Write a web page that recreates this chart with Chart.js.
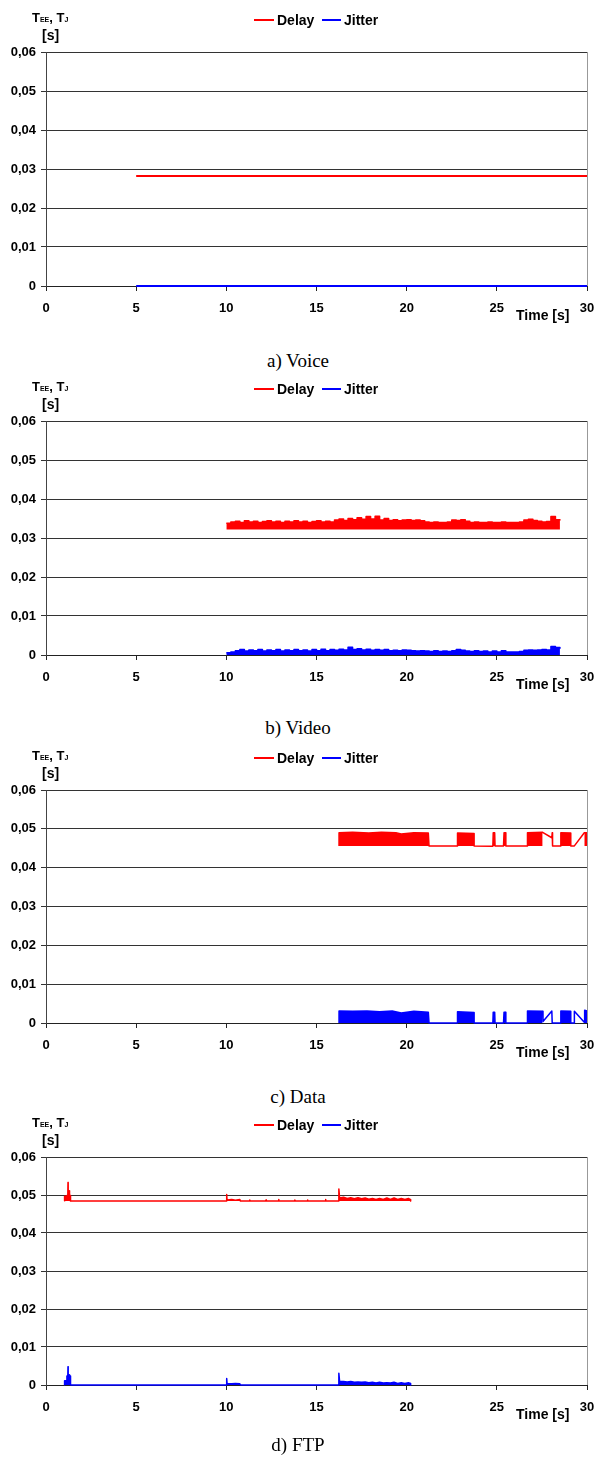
<!DOCTYPE html>
<html>
<head>
<meta charset="utf-8">
<script src="https://cdn.jsdelivr.net/npm/chart.js@4.4.1/dist/chart.umd.min.js"></script>
<style>
  html, body { margin: 0; padding: 0; background: #fff; }
  #page { position: relative; width: 596px; height: 1468px; overflow: hidden; }
  #page canvas { position: absolute; left: 0; }
  .caption {
    position: absolute; left: 0; width: 596px; text-align: center;
    font-family: "Liberation Serif", "Times New Roman", serif; font-size: 19px;
    color: #000; line-height: 20px;
  }
</style>
</head>
<body>
<div id="page"></div>
<script>
// ------------------ //
//        DATA        //
// ------------------ //

// Shared axes
var timeTicks = [0, 5, 10, 15, 20, 25, 30];
var delayTicks = [0, 0.01, 0.02, 0.03, 0.04, 0.05, 0.06];

// a) Voice
var voiceTime = [5, 30];
var voiceDelay = [0.0282, 0.0282];
var voiceJitter = [0, 0];

// b) Video (upper envelope of the dense trace)
var videoTime = [10.00, 10.25, 10.50, 10.75, 11.00, 11.25, 11.50, 11.75, 12.00, 12.25,
  12.50, 12.75, 13.00, 13.25, 13.50, 13.75, 14.00, 14.25, 14.50, 14.75,
  15.00, 15.25, 15.50, 15.75, 16.00, 16.25, 16.50, 16.75, 17.00, 17.25,
  17.50, 17.75, 18.00, 18.25, 18.50, 18.75, 19.00, 19.25, 19.50, 19.75,
  20.00, 20.25, 20.50, 20.75, 21.00, 21.25, 21.50, 21.75, 22.00, 22.25,
  22.50, 22.75, 23.00, 23.25, 23.50, 23.75, 24.00, 24.25, 24.50, 24.75,
  25.00, 25.25, 25.50, 25.75, 26.00, 26.25, 26.50, 26.75, 27.00, 27.25,
  27.50, 27.75, 28.00, 28.25, 28.50];
var videoDelay = [0.0338, 0.0341, 0.0343, 0.0340, 0.0344, 0.0341, 0.0343, 0.0340, 0.0342, 0.0344,
  0.0341, 0.0343, 0.0340, 0.0343, 0.0341, 0.0344, 0.0341, 0.0343, 0.0340, 0.0342,
  0.0344, 0.0341, 0.0343, 0.0341, 0.0346, 0.0349, 0.0345, 0.0350, 0.0347, 0.0352,
  0.0348, 0.0355, 0.0349, 0.0356, 0.0346, 0.0350, 0.0345, 0.0347, 0.0344, 0.0346,
  0.0347, 0.0345, 0.0346, 0.0344, 0.0341, 0.0340, 0.0341, 0.0340, 0.0340, 0.0341,
  0.0346, 0.0345, 0.0347, 0.0343, 0.0340, 0.0341, 0.0340, 0.0340, 0.0341, 0.0340,
  0.0340, 0.0341, 0.0340, 0.0340, 0.0340, 0.0341, 0.0346, 0.0348, 0.0345, 0.0343,
  0.0341, 0.0342, 0.0355, 0.0347, 0.0345];
var videoJitter = [0.0006, 0.0008, 0.0011, 0.0014, 0.0010, 0.0013, 0.0011, 0.0014, 0.0010, 0.0013,
  0.0011, 0.0014, 0.0010, 0.0013, 0.0011, 0.0014, 0.0011, 0.0013, 0.0010, 0.0014,
  0.0011, 0.0015, 0.0011, 0.0014, 0.0012, 0.0015, 0.0013, 0.0020, 0.0014, 0.0016,
  0.0013, 0.0015, 0.0012, 0.0014, 0.0012, 0.0014, 0.0011, 0.0012, 0.0011, 0.0013,
  0.0012, 0.0011, 0.0010, 0.0011, 0.0010, 0.0009, 0.0011, 0.0009, 0.0010, 0.0009,
  0.0011, 0.0014, 0.0012, 0.0010, 0.0009, 0.0011, 0.0009, 0.0010, 0.0008, 0.0010,
  0.0008, 0.0011, 0.0008, 0.0008, 0.0008, 0.0009, 0.0012, 0.0013, 0.0012, 0.0013,
  0.0014, 0.0013, 0.0022, 0.0019, 0.0016];
var videoDelayFloor = 0.0322;

// c) Data
var dataDelayTime = [16.25, 16.25, 17.0, 17.9, 18.6, 19.4, 19.7, 20.4, 21.2, 21.24,
  22.82, 22.82, 23.74, 23.74, 24.78, 24.80, 24.88, 24.90, 25.37, 25.40,
  25.48, 25.50, 26.70, 26.70, 27.54, 28.05, 28.07, 28.09, 28.55, 28.55,
  29.10, 29.10, 29.30, 29.85, 30.0];
var dataDelay = [0.0456, 0.0490, 0.0491, 0.0489, 0.0491, 0.0490, 0.0487, 0.0490, 0.0489, 0.0456,
  0.0456, 0.0489, 0.0488, 0.0456, 0.0455, 0.0490, 0.0490, 0.0456, 0.0456, 0.0490,
  0.0490, 0.0456, 0.0456, 0.0490, 0.0491, 0.0477, 0.0490, 0.0456, 0.0456, 0.0490,
  0.0489, 0.0456, 0.0456, 0.0490, 0.0490];
var dataDelaySlopes = [28.05, 29.30];
var dataDelayFloor = 0.0456;

var dataJitterTime = [16.25, 16.25, 17.0, 17.8, 18.5, 19.2, 19.7, 20.4, 21.2, 21.24,
  22.82, 22.82, 23.74, 23.74, 24.78, 24.80, 24.88, 24.90, 25.37, 25.40,
  25.48, 25.50, 26.70, 26.70, 27.54, 27.56, 28.05, 28.07, 28.55, 28.55,
  29.10, 29.10, 29.28, 29.30, 29.85, 29.87, 30.0];
var dataJitter = [0, 0.0031, 0.0030, 0.0031, 0.0029, 0.0031, 0.0026, 0.0030, 0.0028, 0,
  0, 0.0029, 0.0027, 0, 0, 0.0028, 0.0028, 0, 0, 0.0028,
  0.0028, 0, 0, 0.0031, 0.0030, 0.0004, 0.0031, 0, 0, 0.0031,
  0.0030, 0, 0, 0.0030, 0.0002, 0.0033, 0.0031];
var dataJitterSlopes = [27.56, 29.85];

// d) FTP
var ftpTime = [1.02, 1.03, 1.14, 1.16, 1.21, 1.22, 1.23, 1.29, 1.30, 1.31, 1.34, 1.36,
  10.00, 10.02, 10.04, 10.30, 10.50, 10.75, 10.78,
  11.28, 11.30, 11.32, 12.18, 12.20, 12.22, 12.88, 12.90, 12.92,
  13.78, 13.80, 13.82, 14.48, 14.50, 14.52, 15.48, 15.50, 15.52,
  16.20, 16.24, 16.28, 16.5, 16.7, 16.9, 17.1, 17.3, 17.5, 17.7, 17.9, 18.1,
  18.3, 18.5, 18.7, 18.9, 19.1, 19.3, 19.5, 19.7, 19.9, 20.1, 20.2, 20.22];
var ftpDelay = [0.0484, 0.0497, 0.0497, 0.0499, 0.0499, 0.0533, 0.0499, 0.0499, 0.0511, 0.0499, 0.0499, 0.0484,
  0.0484, 0.0501, 0.0487, 0.0488, 0.0486, 0.0488, 0.0484,
  0.0484, 0.0487, 0.0484, 0.0484, 0.0487, 0.0484, 0.0484, 0.0488, 0.0484,
  0.0484, 0.0487, 0.0484, 0.0484, 0.0487, 0.0484, 0.0484, 0.0488, 0.0484,
  0.0484, 0.0516, 0.0492, 0.0494, 0.0491, 0.0493, 0.0490, 0.0493, 0.0490, 0.0492, 0.0489, 0.0491,
  0.0488, 0.0491, 0.0488, 0.0492, 0.0488, 0.0492, 0.0488, 0.0491, 0.0488, 0.0491, 0.0488, 0.0484];
var ftpJitter = [0, 0.0011, 0.0011, 0.0024, 0.0024, 0.0048, 0.0024, 0.0024, 0.0027, 0.0024, 0.0024, 0,
  0, 0.0017, 0.0004, 0.0003, 0.0004, 0.0003, 0,
  0, 0, 0, 0, 0, 0, 0, 0, 0,
  0, 0, 0, 0, 0, 0, 0, 0, 0,
  0, 0.0031, 0.0010, 0.0009, 0.0008, 0.0009, 0.0007, 0.0008, 0.0007, 0.0008, 0.0006, 0.0007,
  0.0005, 0.0007, 0.0005, 0.0006, 0.0005, 0.0007, 0.0004, 0.0006, 0.0004, 0.0006, 0.0004, 0];
var ftpDelayFloor = 0.0484;

var delayColor = "rgb(255, 0, 0)";
var jitterColor = "rgb(0, 0, 255)";
var fontFamily = '"Liberation Sans", Arial, sans-serif';


// ------------------ //
//  HELPER FUNCTIONS  //
// ------------------ //

// Pairs a time array with a value array into {x, y} points
function toPoints(times, values) {
  return times.map(function (t, i) { return { x: t, y: values[i] }; });
}

// Builds the datasets for one trace: an optional filled band down to
// a floor value (sloped joins left out) and the trace line itself
function traceDatasets(times, values, color, width, floor, slopes, stepped) {
  var sets = [];
  if (floor !== null) {
    var skip = slopes || [];
    sets.push({
      data: times.map(function (t, i) {
        return { x: t, y: skip.indexOf(t) >= 0 ? null : values[i] };
      }),
      borderWidth: 0,
      backgroundColor: color,
      fill: { value: floor },
      stepped: stepped || false,
      spanGaps: false
    });
  }
  sets.push({
    data: toPoints(times, values),
    borderColor: color,
    borderWidth: width,
    borderJoinStyle: "round",
    stepped: stepped || false,
    fill: false
  });
  return sets;
}

// Draws the legend, axis titles and right frame line of a panel
var panelDecor = {
  id: "panelDecor",
  afterDraw: function (chart) {
    var ctx = chart.ctx;
    var area = chart.chartArea;
    ctx.save();

    // right frame line
    ctx.strokeStyle = "#999";
    ctx.lineWidth = 1;
    ctx.beginPath();
    ctx.moveTo(Math.round(area.right) + 0.5, area.top);
    ctx.lineTo(Math.round(area.right) + 0.5, area.bottom);
    ctx.stroke();

    // legend
    var ly = area.top - 32;
    ctx.lineWidth = 2;
    ctx.strokeStyle = delayColor;
    ctx.beginPath(); ctx.moveTo(254, ly); ctx.lineTo(274, ly); ctx.stroke();
    ctx.strokeStyle = jitterColor;
    ctx.beginPath(); ctx.moveTo(322, ly); ctx.lineTo(341, ly); ctx.stroke();
    ctx.fillStyle = "#000";
    ctx.textBaseline = "middle";
    ctx.textAlign = "left";
    ctx.font = "bold 14px " + fontFamily;
    ctx.fillText("Delay", 277, ly + 1);
    ctx.fillText("Jitter", 344, ly + 1);

    // y axis title: T_EE, T_J [s]
    var ty = area.top - 30;
    ctx.textBaseline = "alphabetic";
    var x = 32;
    ctx.font = "bold 13px " + fontFamily;
    ctx.fillText("T", x, ty); x += ctx.measureText("T").width;
    ctx.font = "bold 7px " + fontFamily;
    ctx.fillText("EE", x, ty); x += ctx.measureText("EE").width;
    ctx.font = "bold 13px " + fontFamily;
    ctx.fillText(", T", x, ty); x += ctx.measureText(", T").width;
    ctx.font = "bold 7px " + fontFamily;
    ctx.fillText("J", x, ty);
    ctx.font = "bold 14px " + fontFamily;
    ctx.fillText("[s]", 42, area.top - 12);

    // x axis title
    ctx.textBaseline = "middle";
    ctx.fillText("Time [s]", 516, area.bottom + 30);
    ctx.restore();
  }
};

// Creates one panel chart on an absolutely placed canvas
function drawPanel(page, panel) {
  var canvas = document.createElement("canvas");
  canvas.width = 596;
  canvas.height = 330;
  canvas.style.top = panel.top + "px";
  page.appendChild(canvas);

  var caption = document.createElement("div");
  caption.className = "caption";
  caption.style.top = (panel.captionY - 10) + "px";
  caption.textContent = panel.caption;
  page.appendChild(caption);

  new Chart(canvas, {
    type: "line",
    data: { datasets: panel.datasets },
    options: {
      responsive: false,
      animation: false,
      events: [],
      layout: { padding: { top: 52, right: 9, left: 0, bottom: 0 } },
      elements: { point: { radius: 0 }, line: { tension: 0 } },
      datasets: { line: { clip: 4 } },
      plugins: { legend: { display: false }, tooltip: { enabled: false } },
      scales: {
        x: {
          type: "linear",
          min: timeTicks[0],
          max: timeTicks[timeTicks.length - 1],
          afterBuildTicks: function (scale) {
            scale.ticks = timeTicks.map(function (v) { return { value: v }; });
          },
          afterFit: function (scale) {
            // the end labels may hang over the frame, keep the plot width fixed
            scale.height = panel.axisHeight;
            scale.paddingLeft = 0;
            scale.paddingRight = 0;
          },
          grid: { drawOnChartArea: false, drawTicks: true, tickLength: 5, color: "#222" },
          border: { color: "#222", width: 1 },
          ticks: {
            color: "#000",
            padding: 10,
            maxRotation: 0,
            font: { family: fontFamily, size: 13, weight: "bold" }
          }
        },
        y: {
          type: "linear",
          min: delayTicks[0],
          max: delayTicks[delayTicks.length - 1],
          afterBuildTicks: function (scale) {
            scale.ticks = delayTicks.map(function (v) { return { value: v }; });
          },
          afterFit: function (scale) {
            scale.width = 46;
            scale.paddingTop = 0;
            scale.paddingBottom = 0;
          },
          grid: { color: "#333", tickLength: 5 },
          border: { color: "#444", width: 1 },
          ticks: {
            color: "#000",
            padding: 5,
            font: { family: fontFamily, size: 13, weight: "bold" },
            callback: function (v) {
              return v === 0 ? "0" : v.toFixed(2).replace(".", ",");
            }
          }
        }
      }
    },
    plugins: [panelDecor]
  });
}


// ----------- //
//  FUNCTIONS  //
// ----------- //

var page = document.getElementById("page");

var panels = [
  {
    caption: "a) Voice", top: 0, axisHeight: 44, captionY: 361,
    datasets: [].concat(
      traceDatasets(voiceTime, voiceDelay, delayColor, 2, null),
      traceDatasets(voiceTime, voiceJitter, jitterColor, 2, null))
  },
  {
    caption: "b) Video", top: 369, axisHeight: 44, captionY: 728,
    datasets: [].concat(
      traceDatasets(videoTime, videoDelay, delayColor, 1.5, videoDelayFloor, null, true),
      traceDatasets(videoTime, videoJitter, jitterColor, 1.5, 0, null, true))
  },
  {
    caption: "c) Data", top: 738, axisHeight: 45, captionY: 1097,
    datasets: [].concat(
      traceDatasets(dataDelayTime, dataDelay, delayColor, 1.5, dataDelayFloor, dataDelaySlopes),
      traceDatasets(dataJitterTime, dataJitter, jitterColor, 1.5, 0, dataJitterSlopes))
  },
  {
    caption: "d) FTP", top: 1105, axisHeight: 50, captionY: 1445,
    datasets: [].concat(
      traceDatasets(ftpTime, ftpDelay, delayColor, 1.5, ftpDelayFloor),
      traceDatasets(ftpTime, ftpJitter, jitterColor, 1.5, 0))
  }
];

Chart.defaults.font.family = fontFamily;
panels.forEach(function (panel) { drawPanel(page, panel); });
</script>
</body>
</html>
